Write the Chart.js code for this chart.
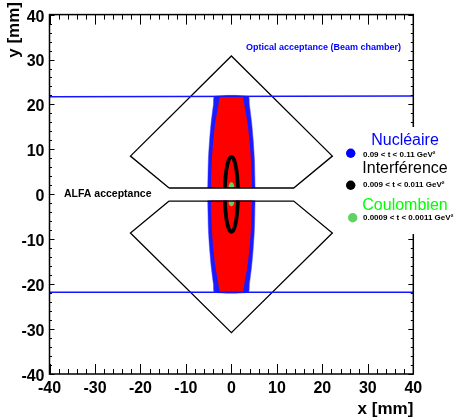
<!DOCTYPE html>
<html>
<head>
<meta charset="utf-8">
<script src="https://cdn.jsdelivr.net/npm/chart.js@4.4.1/dist/chart.umd.min.js"></script>
<style>
    html, body { margin: 0; padding: 0; background: #fff; }
</style>
</head>
<body>
<canvas id="grafico" width="454" height="418"></canvas>
<script>
// axes
let xTicks = [-40, -30, -20, -10, 0, 10, 20, 30, 40]
let yTicks = [-40, -30, -20, -10, 0, 10, 20, 30, 40]
let minorStep = 2

// optical acceptance (beam chamber)
let opticalTop = [{x: -40, y: 21.7}, {x: 40, y: 21.9}]
let opticalBottom = [{x: -40, y: -21.8}, {x: 40, y: -21.8}]

// ALFA acceptance
let alfaX = [-13.7, -22.2, 0, 22.2, 13.7, -13.7]
let alfaTopY = [1.4, 8.5, 30.8, 8.5, 1.4, 1.4]
let alfaBottomY = [-1.5, -8.6, -30.8, -8.6, -1.5, -1.5]

// half widths of the point clouds read at |y| levels
let nucleaireY = [1.4, 4, 8, 12, 16, 20, 21.8]
let nucleaireHalf = [5.2, 5.15, 5.05, 4.8, 4.45, 3.95, 3.7]
let redHalf = [4.5, 4.45, 4.28, 3.98, 3.53, 2.84, 2.4]
let interfY = [1.4, 3, 5, 6.5, 7.5, 8, 8.25, 8.35]
let interfHalf = [1.43, 1.35, 1.16, 0.91, 0.64, 0.42, 0.22, 0]
let coulombY = [1.5, 1.9, 2.2, 2.35]
let coulombHalf = [0.3, 0.25, 0.15, 0]

// legend
let legendNames = ['Nucléaire', 'Interférence', 'Coulombien']
let legendRanges = ['0.09 < t < 0.11 GeV²', '0.009 < t < 0.011 GeV²', '0.0009 < t < 0.0011 GeV²']
let legendTitleColors = ['#0000ff', '#000000', '#00ff00']
let legendMarkerColors = ['#0000ff', '#000000', '#5fd35f']

const FONT = "'Liberation Sans', Arial, Helvetica, sans-serif"

function polygon(xs, ys) {
    return xs.map((x, i) => ({x: x, y: ys[i]}))
}

// left side going away from the gap, right side coming back
function cloud(ys, hw, sign) {
    let pts = []
    for (let i = 0; i < ys.length; i++) pts.push({x: -hw[i], y: sign * ys[i]})
    for (let i = ys.length - 1; i >= 0; i--) {
        if (hw[i] === 0 && i === ys.length - 1) continue
        pts.push({x: hw[i], y: sign * ys[i]})
    }
    return pts
}

function lineSet(data, color, width, tension) {
    return {data: data, showLine: true, pointRadius: 0, borderColor: color, borderWidth: width, fill: false, tension: tension || 0}
}

function shapeSet(data, fillColor, borderColor, width, tension) {
    return {data: data, showLine: true, pointRadius: 0, borderColor: borderColor, borderWidth: width,
        backgroundColor: fillColor, fill: 'shape', tension: tension}
}

// first dataset is drawn on top
let datasets = [
    lineSet(opticalTop, '#1414ff', 1.5),
    lineSet(opticalBottom, '#1414ff', 1.5),
    lineSet(polygon(alfaX, alfaTopY), '#000', 1.3),
    lineSet(polygon(alfaX, alfaBottomY), '#000', 1.3),
    shapeSet(cloud(coulombY, coulombHalf, 1), '#5fd35f', '#5fd35f', 3, 0.4),
    shapeSet(cloud(coulombY, coulombHalf, -1), '#5fd35f', '#5fd35f', 3, 0.4),
    lineSet(cloud(interfY, interfHalf, 1), '#000', 3.8, 0.4),
    lineSet(cloud(interfY, interfHalf, -1), '#000', 3.8, 0.4),
    shapeSet(cloud(nucleaireY, redHalf, 1), '#ff0000', '#ff0000', 0, 0.2),
    shapeSet(cloud(nucleaireY, redHalf, -1), '#ff0000', '#ff0000', 0, 0.2),
    shapeSet(cloud(nucleaireY, nucleaireHalf, 1), '#1a1aff', 'rgba(60,60,255,0.5)', 1, 0.2),
    shapeSet(cloud(nucleaireY, nucleaireHalf, -1), '#1a1aff', 'rgba(60,60,255,0.5)', 1, 0.2)
]

const decor = {
    id: 'decor',
    afterDatasetsDraw(chart) {
        const {ctx, chartArea: a, scales: {x, y}} = chart
        ctx.save()
        ctx.strokeStyle = '#000'
        ctx.lineWidth = 1
        ctx.beginPath()
        for (let v = -40; v <= 40; v += minorStep) {
            let major = xTicks.includes(v)
            let px = Math.round(x.getPixelForValue(v)) + 0.5
            let lx = major ? 10 : 5
            ctx.moveTo(px, a.bottom); ctx.lineTo(px, a.bottom - lx)
            ctx.moveTo(px, a.top); ctx.lineTo(px, a.top + lx)
            major = yTicks.includes(v)
            let py = Math.round(y.getPixelForValue(v)) + 0.5
            let ly = major ? 5 : 2.5
            ctx.moveTo(a.left, py); ctx.lineTo(a.left + ly, py)
            ctx.moveTo(a.right, py); ctx.lineTo(a.right - ly, py)
        }
        ctx.stroke()

        ctx.lineWidth = 1.5
        ctx.strokeRect(a.left, a.top, a.right - a.left, a.bottom - a.top)

        // axis titles
        ctx.fillStyle = '#000'
        ctx.font = 'bold 17px ' + FONT
        ctx.textAlign = 'right'
        ctx.textBaseline = 'alphabetic'
        ctx.fillText('x [mm]', a.right, 414)
        ctx.save()
        ctx.translate(19, 2)
        ctx.rotate(-Math.PI / 2)
        ctx.fillText('y [mm]', 0, 0)
        ctx.restore()

        // annotations
        ctx.textAlign = 'left'
        ctx.font = 'bold 9px ' + FONT
        ctx.fillStyle = '#0000ff'
        ctx.fillText('Optical acceptance (Beam chamber)', 246, 50)
        ctx.font = 'bold 10.5px ' + FONT
        ctx.fillStyle = '#000'
        ctx.fillText('ALFA acceptance', 64, 197)

        // legend box (white, hides the frame behind it)
        ctx.fillStyle = '#fff'
        ctx.fillRect(340, 127, 114, 107)
        let titleBase = [145, 173, 210]
        let rangeBase = [157, 187, 219.5]
        let markerY = [153.3, 185.3, 217.7]
        let markerX = [350.7, 350.7, 352.7]
        for (let i = 0; i < legendNames.length; i++) {
            ctx.font = '16px ' + FONT
            ctx.textAlign = 'center'
            ctx.fillStyle = legendTitleColors[i]
            ctx.fillText(legendNames[i], 405, titleBase[i])
            ctx.font = 'bold 8px ' + FONT
            ctx.textAlign = 'left'
            ctx.fillStyle = '#000'
            ctx.fillText(legendRanges[i], 363, rangeBase[i])
            ctx.beginPath()
            ctx.arc(markerX[i], markerY[i], 4.7, 0, Math.PI * 2)
            ctx.fillStyle = legendMarkerColors[i]
            ctx.fill()
        }
        ctx.restore()
    }
}

let tickFont = {family: FONT, size: 16, weight: 'bold'}

let ctx = document.getElementById('grafico')
new Chart(ctx, {
    type: 'scatter',
    data: {datasets: datasets},
    options: {
        responsive: false,
        animation: false,
        devicePixelRatio: 1,
        layout: {padding: {left: 0, right: 40.7, top: 10, bottom: 0}},
        plugins: {legend: {display: false}, tooltip: {enabled: false}},
        scales: {
            x: {
                type: 'linear', min: -40, max: 40,
                afterFit: s => { s.height = 44 },
                afterBuildTicks: s => { s.ticks = xTicks.map(v => ({value: v})) },
                ticks: {font: tickFont, color: '#000', padding: 5, maxRotation: 0, autoSkip: false},
                grid: {display: false, drawTicks: false},
                border: {display: false}
            },
            y: {
                type: 'linear', min: -40, max: 40,
                afterFit: s => { s.width = 49.5 },
                afterBuildTicks: s => { s.ticks = yTicks.map(v => ({value: v})) },
                ticks: {font: tickFont, color: '#000', padding: 5, labelOffset: 2.5, autoSkip: false},
                grid: {display: false, drawTicks: false},
                border: {display: false}
            }
        }
    },
    plugins: [decor]
})
</script>
</body>
</html>
